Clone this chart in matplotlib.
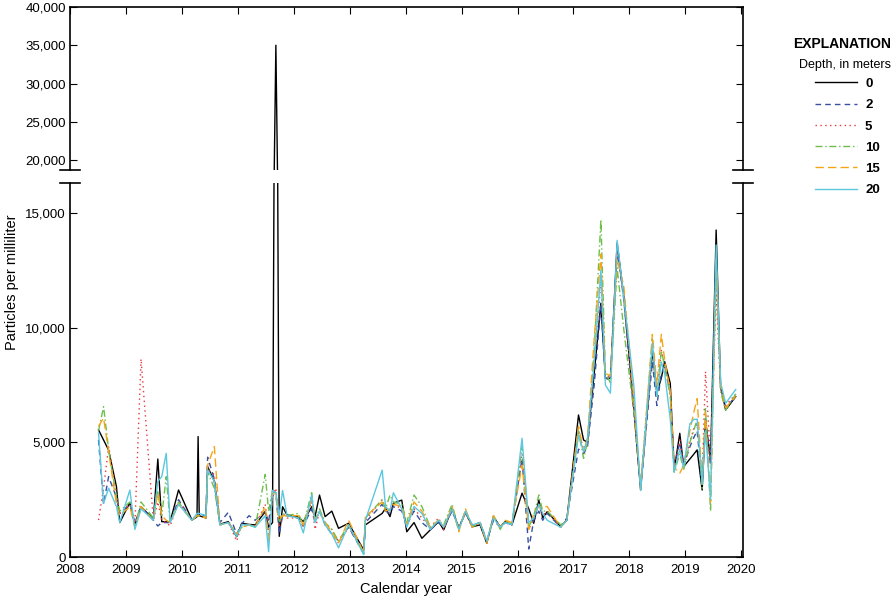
import matplotlib
matplotlib.use("Agg")
import matplotlib.pyplot as plt
from matplotlib.ticker import FuncFormatter, FixedLocator

plt.rcParams["font.family"] = ["Liberation Sans", "DejaVu Sans"]

dates = [
    2008.51, 2008.60, 2008.69, 2008.83, 2008.89, 2009.07, 2009.16, 2009.27, 2009.49, 2009.57,
    2009.64, 2009.72, 2009.79, 2009.94, 2010.18, 2010.27, 2010.29, 2010.31, 2010.43, 2010.46,
    2010.58, 2010.68, 2010.83, 2010.98, 2011.07, 2011.20, 2011.31, 2011.49, 2011.55, 2011.62,
    2011.68, 2011.74, 2011.80, 2011.88, 2012.08, 2012.17, 2012.32, 2012.38, 2012.46, 2012.56,
    2012.68, 2012.80, 2012.98, 2013.25, 2013.28, 2013.58, 2013.64, 2013.72, 2013.78, 2013.93,
    2014.02, 2014.15, 2014.29, 2014.44, 2014.59, 2014.68, 2014.83, 2014.95, 2015.07, 2015.19,
    2015.33, 2015.45, 2015.57, 2015.69, 2015.78, 2015.90, 2016.08, 2016.20, 2016.29, 2016.38,
    2016.45, 2016.53, 2016.77, 2016.88, 2017.09, 2017.18, 2017.25, 2017.37, 2017.49, 2017.57,
    2017.66, 2017.78, 2017.90, 2018.08, 2018.20, 2018.41, 2018.49, 2018.57, 2018.63, 2018.73,
    2018.80, 2018.90, 2018.97, 2019.08, 2019.15, 2019.21, 2019.30, 2019.36, 2019.45, 2019.55,
    2019.63, 2019.72, 2019.90,
]

depth_0 = [
    5540, 5100, 4660, 3070, 1500, 2370, 1400, 2190, 1650, 4270,
    1540, 1540, 1540, 2920, 1610, 1750, 5250, 1800, 1700, 3940,
    3300, 1430, 1540, 885, 1470, 1420, 1400, 1975, 1300, 1500,
    35000, 900, 2190, 1830, 1760, 1540, 2190, 1760, 2700, 1760,
    2000, 1250, 1470, 305, 1400, 1900, 2120, 1760, 2340, 2480,
    1100, 1500, 815, 1180, 1540, 1180, 2120, 1250, 1975, 1320,
    1400, 600, 1760, 1320, 1540, 1400, 2780, 2100, 1470, 2480,
    1700, 1975, 1320, 1610, 6190, 5100, 5000, 8000, 11060, 7790,
    7790, 13680, 11350, 6410, 2920, 9025, 7140, 7800, 8515, 7570,
    3790, 5390, 3940, 4270, 4480, 4670, 2920, 5970, 4230, 14250,
    7430, 6410, 6990,
]

depth_2 = [
    5100, 2300, 3500, 2600, 1900, 2300, 1500, 2200, 1600, 1350,
    1500, 1500, 1500, 2500, 1600, 1800, 1800, 1850, 1800, 4350,
    3400, 1500, 1950, 1000, 1450, 1800, 1600, 2000, 1500, 2900,
    2800, 1000, 1800, 1800, 1700, 1350, 2100, 1500, 2000, 1400,
    1000, 700, 1300, 150, 1500, 2300, 2000, 1900, 2200, 2000,
    1400, 2000, 1500, 1200, 1500, 1300, 2000, 1300, 1900, 1400,
    1500, 700, 1600, 1300, 1500, 1400, 4300, 350, 1600, 2000,
    1600, 1900, 1300, 1700, 4700, 4500, 4800, 7500, 11000, 7800,
    7700, 13400, 11200, 6300, 3000, 8500, 6600, 8000, 8300, 7200,
    3900, 5000, 4000, 4800, 5200, 5500, 3200, 6000, 4000, 13000,
    7400, 6500, 7000,
]

depth_5 = [
    1610, 3000, 4800, 2800, 1900, 2300, 1400, 8630, 1600, 2400,
    1600, 1500, 1350, 2400, 1600, 1800, 1800, 1800, 1700, 3800,
    3600, 1400, 1500, 700, 1400, 1400, 1350, 2300, 1000, 2600,
    3000, 1300, 1900, 1700, 1700, 1300, 2400, 1200, 2000, 1500,
    1200, 600, 1300, 200, 1600, 2500, 2100, 2000, 2300, 2100,
    1400, 2100, 1700, 1300, 1700, 1200, 2100, 1300, 1900, 1300,
    1500, 700, 1700, 1300, 1500, 1400, 4500, 1200, 1700, 2300,
    1800, 2000, 1300, 1600, 5500, 4700, 5000, 8500, 12000, 8000,
    7800, 13200, 11500, 6500, 3000, 9000, 7200, 9000, 8400, 7300,
    3800, 5100, 4000, 5000, 5600, 5800, 3500, 8080, 4200, 11500,
    7300, 6600, 7100,
]

depth_10 = [
    5500, 6550, 4700, 2600, 2000, 2400, 1300, 2400, 1700, 2900,
    1800, 3500, 1500, 2400, 1600, 1800, 1800, 1800, 1700, 3700,
    3000, 1400, 1500, 1000, 1300, 1400, 1300, 3600, 2000, 2900,
    2800, 1500, 1900, 1800, 1900, 1400, 2800, 1600, 2100, 1500,
    1200, 700, 1400, 150, 1700, 2500, 2100, 2700, 2400, 2300,
    1500, 2700, 2200, 1300, 1600, 1400, 2300, 1200, 2000, 1300,
    1500, 700, 1800, 1200, 1600, 1400, 4800, 1300, 1800, 2700,
    2000, 2000, 1400, 1600, 5500, 4300, 5000, 9000, 14700, 8000,
    7600, 12600, 9900, 6300, 3100, 9500, 7000, 9000, 8300, 7000,
    3700, 4500, 3800, 5000, 5500, 6000, 3000, 6500, 2000, 13000,
    7200, 6400, 7100,
]

depth_15 = [
    5700, 6060, 4600, 2300, 1800, 2200, 1300, 2200, 1600, 2800,
    1800, 1600, 1500, 2300, 1600, 1800, 1800, 1800, 1700, 4000,
    4810, 1400, 1500, 1000, 1300, 1400, 1300, 2200, 700, 2800,
    2700, 1600, 1800, 1800, 1800, 1400, 2500, 1600, 2000, 1500,
    1100, 600, 1600, 200, 1760, 2400, 2000, 2100, 2300, 2200,
    1400, 2400, 2000, 1300, 1600, 1300, 2200, 1100, 2100, 1300,
    1500, 600, 1800, 1300, 1600, 1500, 4000, 1200, 1900, 2200,
    2200, 2200, 1300, 1600, 5700, 4600, 5200, 9500, 13200, 8000,
    7900, 13000, 11800, 6800, 3000, 9700, 7500, 9700, 8600, 7200,
    3900, 3650, 4000, 5500, 6300, 6900, 3300, 6300, 2400, 12800,
    7500, 6500, 7000,
]

depth_20 = [
    5400, 2340, 3000, 2200, 1500, 2920, 1200, 2100, 1600, 3300,
    3500, 4520, 1500, 2300, 1600, 1900, 1900, 1900, 1800, 3800,
    3300, 1400, 1500, 900, 1400, 1400, 1300, 1800, 230, 2900,
    2800, 1800, 2900, 1800, 1700, 1050, 2700, 1500, 2000, 1400,
    1000, 400, 1400, 100, 1600, 3790, 2200, 2000, 2800, 2100,
    1300, 2200, 1900, 1200, 1600, 1300, 2100, 1200, 2000, 1400,
    1500, 700, 1700, 1300, 1500, 1400, 5175, 1500, 1700, 2300,
    1900, 1600, 1300, 1600, 5300, 4600, 5100, 8500, 12500, 7500,
    7140, 13800, 11300, 7430, 2900, 9300, 7000, 8500, 8000, 6000,
    3700, 4700, 3900, 5800, 6000, 6000, 3200, 5500, 2500, 13600,
    7600, 6700, 7300,
]

labels = ["0", "2", "5", "10", "15", "20"]
series = [depth_0, depth_2, depth_5, depth_10, depth_15, depth_20]
colors = ["#000000", "#3a4fa0", "#e8383d", "#6cbf4b", "#f5a418", "#5cc8e0"]
dashes = [None, (4, 3), (1, 2.5), (5, 2, 1, 2), (6, 3), None]

fig = plt.figure(figsize=(8.93, 6.0), dpi=100)
left, right = 70 / 893, 743 / 893
ax_top = fig.add_axes([left, 1 - 170 / 600, right - left, 163 / 600])
ax_bot = fig.add_axes([left, 1 - 557 / 600, right - left, 374 / 600])

handles = []
for ax in (ax_top, ax_bot):
    for vals, lab, col, dsh in zip(series, labels, colors, dashes):
        line, = ax.plot(dates, vals, color=col, lw=1.0, label=lab)
        if dsh is not None:
            line.set_dashes(dsh)
        if ax is ax_bot:
            handles.append(line)

fmt = FuncFormatter(lambda v, p: f"{int(v):,}")

ax_top.set_ylim(18700, 40000)
ax_top.yaxis.set_major_locator(FixedLocator([20000, 25000, 30000, 35000, 40000]))
ax_top.spines["bottom"].set_visible(False)
ax_top.set_xticks(range(2008, 2021))
ax_top.tick_params(axis="x", which="both", bottom=False, top=True, labelbottom=False,
                   direction="in", length=5)

ax_bot.set_ylim(0, 16300)
ax_bot.yaxis.set_major_locator(FixedLocator([0, 5000, 10000, 15000]))
ax_bot.spines["top"].set_visible(False)
ax_bot.tick_params(axis="x", direction="in", length=5, top=False)
ax_bot.set_xticks(range(2008, 2021))

for ax in (ax_top, ax_bot):
    ax.set_xlim(2008, 2020.03)
    ax.yaxis.set_major_formatter(fmt)
    ax.tick_params(axis="y", direction="in", length=5, left=True, right=True,
                   labelsize=9.5, pad=3)
    ax.tick_params(axis="x", labelsize=9.5, pad=5)
    for s in ax.spines.values():
        s.set_linewidth(1.2)

# break marks
for y in (1 - 170 / 600, 1 - 183 / 600):
    for x in (left, right):
        fig.add_artist(plt.Line2D([x - 10 / 893, x + 10 / 893], [y, y],
                                  color="black", lw=1.2, transform=fig.transFigure))

fig.text(12 / 893, 1 - 282 / 600, "Particles per milliliter", rotation=90,
         ha="center", va="center", fontsize=10.5)
fig.text((70 + 743) / 2 / 893, 1 - 589 / 600, "Calendar year", ha="center",
         va="center", fontsize=10.5)

fig.text(891 / 893, 1 - 44 / 600, "EXPLANATION", ha="right", va="center",
         fontsize=10, fontweight="bold")
fig.text(891 / 893, 1 - 65 / 600, "Depth, in meters", ha="right", va="center",
         fontsize=9)
leg = fig.legend(handles=handles, labels=labels, loc="upper left",
                 bbox_to_anchor=(803 / 893, 1 - 66 / 600), frameon=False,
                 handlelength=3.2, handletextpad=0.6, labelspacing=0.68,
                 prop={"weight": "bold", "size": 9.5})

fig.savefig("out.png", dpi=100)
